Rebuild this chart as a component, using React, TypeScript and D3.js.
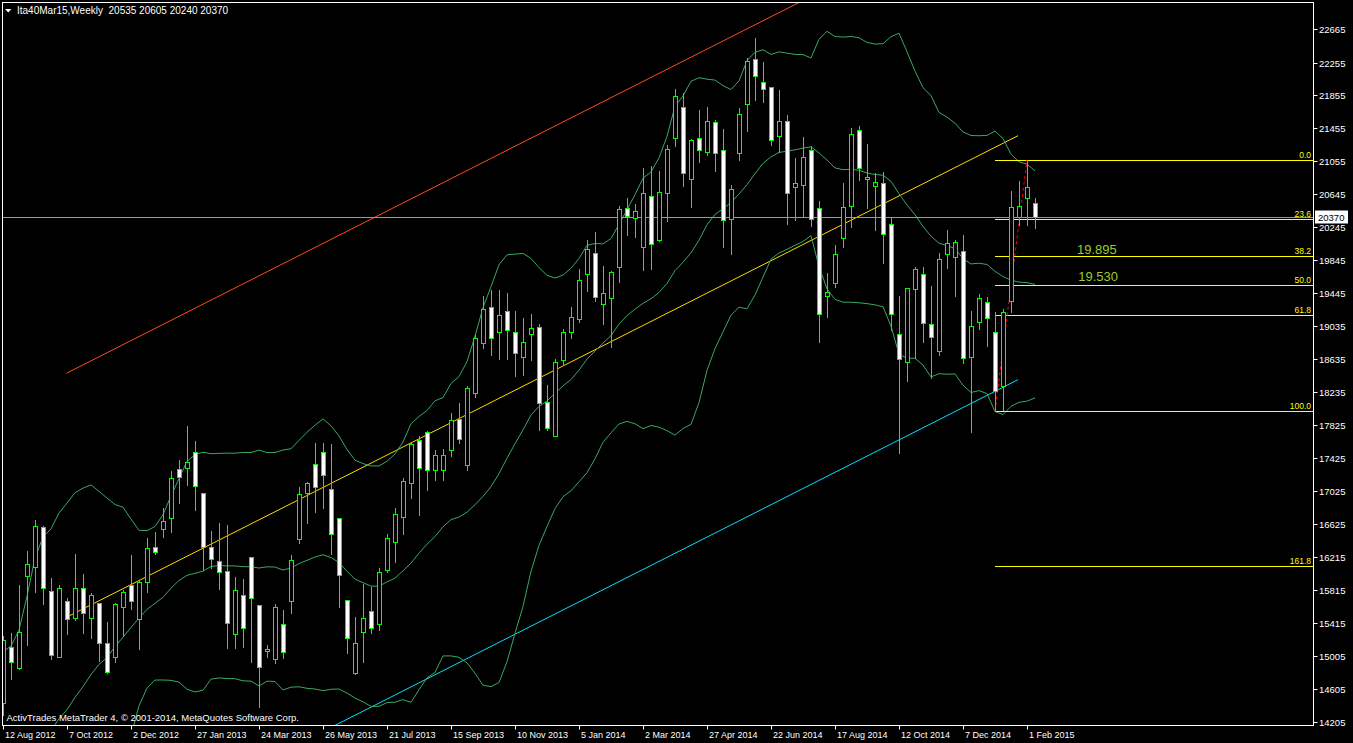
import React, { useEffect } from 'react';
import * as d3 from 'd3';

const W = 1353;
const H = 743;

// Weekly OHLC, bar 0 = 12 Aug 2012 ... bar 129 = 8 Feb 2015
const opens = [14430,15115,14860,15985,16095,16585,15800,14995,15680,15470,15835,15470,15655,15165,14995,15605,15875,15460,15910,16340,16560,16695,17290,17305,17500,17000,16340,16165,16045,15275,15750,16215,15630,15070,14970,15395,15680,16435,17000,17350,17500,17045,16695,15690,14800,15300,15555,15395,16055,16400,16705,17120,17645,17745,17280,17280,17525,17900,17340,18220,18830,19265,18965,19220,18965,18660,18940,19025,18110,17695,18620,18965,19125,19675,19930,19305,19380,19760,20480,20355,20005,20625,20090,20660,21335,21715,20835,21335,21165,21530,21190,20345,21150,21750,22300,22020,21955,21360,21540,20735,20760,21190,20480,19405,19565,20115,20505,21430,20835,20750,20785,20285,18940,18600,19490,19675,19060,18730,19915,19880,19955,18660,19085,19330,18965,18305,19345,20370,20600,20535];
const highs = [15250,15285,15875,16290,16670,16595,15960,15875,15715,16250,16010,15775,15655,15420,15655,15815,16240,15935,16445,16520,16815,17265,17400,17815,17635,17000,16535,16630,16605,15970,15945,16215,15630,15140,15640,15570,16240,17070,17130,17610,17610,17595,16695,15690,15485,15885,15850,16080,16495,16815,17180,17610,17695,17755,17525,17535,17975,18095,18305,18930,19405,19475,19475,19440,19220,19135,19185,19060,18315,18635,19000,19270,19735,20090,20185,19770,19710,20505,20600,20530,20970,20990,20930,21250,21930,21885,21320,21675,21715,21555,21445,20760,21700,22310,22555,22260,21955,21920,21615,21090,21345,21235,20565,19685,20025,20785,21455,21480,21260,20905,20920,20355,19405,19500,19760,19760,19525,19930,20210,20090,20150,19220,19430,19390,19210,19245,20685,20810,21065,20605];
const lows = [14285,14725,14850,15140,15790,15640,14970,14990,15275,15445,15285,15225,14945,14800,14935,15250,15580,15090,15790,16250,16460,16520,16875,17095,16790,16055,16080,15825,15105,15105,15115,14935,14385,14995,14920,14980,15530,16385,16630,16765,16815,16250,15605,15045,14790,14935,15285,15325,16030,16155,16495,16935,16730,17035,17155,17160,17450,17610,17280,18170,18770,18685,18635,18635,18425,18440,18620,17765,17765,17690,18560,18890,19085,19465,19345,19060,18780,19575,20150,20125,19720,19735,20080,20320,21235,20750,20490,21040,21125,20930,20005,19915,21065,21420,21800,21775,21250,21165,20285,20335,20380,20260,18840,19150,19515,20005,20245,20820,20480,20210,19810,18990,17485,18365,18645,18840,18405,18685,19745,19405,18585,17745,19000,18795,18000,18010,19210,20270,20270,20240];
const closes = [15200,14935,15300,16130,16595,15835,15020,15835,15460,15835,15530,15750,15165,14810,15640,15790,15680,15910,16325,16275,16655,17180,17195,17375,17085,16340,16190,16030,15410,15815,15350,15715,14870,15090,15605,15055,16180,16985,17120,17070,17215,16495,15995,15225,15165,15470,15350,16030,16445,16740,17145,17595,17305,17280,17460,17460,17890,17655,18280,18890,19250,18890,19170,18990,18710,18840,19015,18095,17790,18600,18965,19150,19600,19980,19390,19440,19695,20465,20380,20445,20660,20040,20675,21200,21845,20905,21310,21190,21540,21150,20335,20710,21625,22275,22090,21935,21310,21540,20660,20785,21100,20345,19185,19455,19915,20490,21385,20970,20860,20795,20160,19185,18635,19500,19735,19075,18905,19855,20050,20065,18645,19040,19380,19135,18245,19210,20490,20505,20735,20370];
// estimated closes of the 19 weeks before the first visible bar (needed for the 20-period bands)
const priorCloses = [14600,14300,14100,14200,13700,13300,12900,13300,12800,12900,12800,12700,13100,13000,13500,13300,13600,14200,14800];

const dateLabels = ['12 Aug 2012','7 Oct 2012','2 Dec 2012','27 Jan 2013','24 Mar 2013','26 May 2013','21 Jul 2013','15 Sep 2013','10 Nov 2013','5 Jan 2014','2 Mar 2014','27 Apr 2014','22 Jun 2014','17 Aug 2014','12 Oct 2014','7 Dec 2014','1 Feb 2015'];
const dateLabelStep = 8;
const priceTicks = [22665,22255,21855,21455,21055,20645,20245,19845,19445,19035,18635,18235,17825,17425,17025,16625,16215,15815,15415,15005,14605,14205];

const fibLevels = [0, 23.6, 38.2, 50.0, 61.8, 100.0, 161.8];
const fibHigh = 21065;
const fibLow = 18000;
const fibFromBar = 124;
const fibToBar = 128;

const channelBars = [7.925, 126.875];
const channelMid = [15480, 21362];
const channelWidth = 2980;

const noteTexts = ['19.895', '19.530'];
const noteBars = [134.25, 134.4];
const notePrices = [20040, 19710];

const headerText = 'Ita40Mar15,Weekly  20535 20605 20240 20370';
const footerText = 'ActivTrades MetaTrader 4, \u00A9 2001-2014, MetaQuotes Software Corp.';

const FONT = "'Liberation Sans', Arial, sans-serif";
const BULL = '#00ff00';
const BAND = '#3aa862';

export default function App() {
  useEffect(() => {
    document.body.style.margin = '0';
    document.body.style.background = '#000';
  }, []);

  const n = closes.length;
  const x = d3.scaleLinear().domain([0, n - 1]).range([3, 3 + 8 * (n - 1)]);
  const y = d3.scaleLinear().domain([14205, 22665]).range([721.7, 29]);

  const left = 2.5, right = 1313.5, top = 2.5, bottom = 725.5;

  // Bollinger bands 20, 2
  const all = priorCloses.concat(closes);
  const off = priorCloses.length;
  const bands: { i: number; mid: number; up: number; lo: number }[] = [];
  for (let i = 0; i < n; i++) {
    const k = i + off;
    if (k < 19) continue;
    const win = all.slice(k - 19, k + 1);
    const m = d3.mean(win)!;
    const sd = Math.sqrt(d3.mean(win.map(v => (v - m) * (v - m)))!);
    bands.push({ i, mid: m, up: m + 2 * sd, lo: m - 2 * sd });
  }
  const bandLine = (key: 'mid' | 'up' | 'lo') =>
    d3.line<{ i: number; mid: number; up: number; lo: number }>()
      .x(d => x(d.i))
      .y(d => y(d[key]))(bands) || '';

  const chanLine = (shift: number) =>
    d3.line<number>().x((_, k) => x(channelBars[k])).y((p) => y(p + shift))(channelMid) || '';

  const fibRange = fibHigh - fibLow;
  const lastClose = closes[n - 1];
  const lastY = Math.round(y(lastClose)) + 0.5;

  return (
    <div style={{ position: 'fixed', left: 0, top: 0, width: W, height: H, background: '#000' }}>
      <svg width={W} height={H} style={{ display: 'block', background: '#000' }}>
        <defs>
          <clipPath id="plot">
            <rect x={left} y={top} width={right - left} height={bottom - top} />
          </clipPath>
        </defs>
        <g clipPath="url(#plot)">
          {/* channel */}
          <path d={chanLine(channelWidth)} stroke="#ff4a1c" strokeWidth={1} fill="none" />
          <path d={chanLine(0)} stroke="#ffd700" strokeWidth={1} fill="none" />
          <path d={chanLine(-channelWidth)} stroke="#00e0ff" strokeWidth={1} fill="none" />
          {/* bands */}
          <path d={bandLine('up')} stroke={BAND} strokeWidth={1} fill="none" />
          <path d={bandLine('mid')} stroke={BAND} strokeWidth={1} fill="none" />
          <path d={bandLine('lo')} stroke={BAND} strokeWidth={1} fill="none" />
          {/* current price line */}
          <line x1={left} x2={right} y1={lastY} y2={lastY} stroke="#9a9a9a" strokeWidth={1} />
          {/* fibonacci */}
          {fibLevels.map(l => {
            const py = Math.round(y(fibHigh - (l / 100) * fibRange)) + 0.5;
            return (
              <g key={l}>
                <line x1={Math.round(x(fibFromBar))} x2={right} y1={py} y2={py} stroke="#ffff00" strokeWidth={1} />
                <text x={1311} y={py - 3} fill="#ffff00" fontSize={8.5} fontFamily={FONT} textAnchor="end">
                  {l.toFixed(1)}
                </text>
              </g>
            );
          })}
          <line x1={x(fibFromBar)} y1={y(fibLow)} x2={x(fibToBar)} y2={y(fibHigh)} stroke="#ff0000" strokeWidth={1} strokeDasharray="3,3" />
          {noteTexts.map((t, k) => (
            <text key={t} x={x(noteBars[k])} y={y(notePrices[k])} fill="#9acd32" fontSize={13} fontFamily={FONT} dominantBaseline="hanging">
              {t}
            </text>
          ))}
          {/* candles */}
          {closes.map((c, i) => {
            const o = opens[i];
            const cx = Math.round(x(i)) + 0.5;
            const yH = Math.round(y(highs[i]));
            const yL = Math.round(y(lows[i]));
            const yT = Math.round(y(Math.max(o, c))) + 0.5;
            const yB = Math.round(y(Math.min(o, c))) + 0.5;
            const bear = c < o;
            return (
              <g key={i}>
                <line x1={cx} x2={cx} y1={yH} y2={yL + 1} stroke={BULL} strokeWidth={1} />
                {yB - yT < 1 ? (
                  <line x1={cx - 2} x2={cx + 2} y1={yT} y2={yT} stroke={BULL} strokeWidth={1} />
                ) : (
                  <rect x={cx - 2} y={yT} width={4} height={yB - yT} fill={bear ? '#ffffff' : '#000000'} stroke={BULL} strokeWidth={1} />
                )}
              </g>
            );
          })}
        </g>
        {/* frame */}
        <rect x={left} y={top} width={right - left} height={bottom - top} fill="none" stroke="#ffffff" strokeWidth={1} />
        {/* right axis */}
        {priceTicks.map(p => {
          const py = Math.round(y(p)) + 0.5;
          return (
            <g key={p}>
              <line x1={right} x2={right + 4} y1={py} y2={py} stroke="#fff" />
              <text x={1319} y={py + 3.5} fill="#fff" fontSize={9.5} fontFamily={FONT}>{p}</text>
            </g>
          );
        })}
        <rect x={1315} y={lastY - 7} width={33} height={13} fill="#fff" />
        <text x={1318} y={lastY + 3.5} fill="#000" fontSize={9.5} fontFamily={FONT}>{lastClose}</text>
        {/* bottom axis */}
        {dateLabels.map((d, k) => {
          const px = Math.round(x(k * dateLabelStep)) + 0.5;
          return (
            <g key={d}>
              <line x1={px} x2={px} y1={bottom} y2={bottom + 4} stroke="#fff" />
              <text x={px + 1.5} y={738} fill="#fff" fontSize={9} fontFamily={FONT}>{d}</text>
            </g>
          );
        })}
        {/* header */}
        <polygon points="5,9 11.5,9 8.25,12.5" fill="#fff" />
        <text x={17} y={14} fill="#fff" fontSize={10} fontFamily={FONT} style={{ whiteSpace: 'pre' }}>{headerText}</text>
        <text x={6.5} y={721} fill="#fff" fontSize={9.5} fontFamily={FONT}>{footerText}</text>
      </svg>
    </div>
  );
}
